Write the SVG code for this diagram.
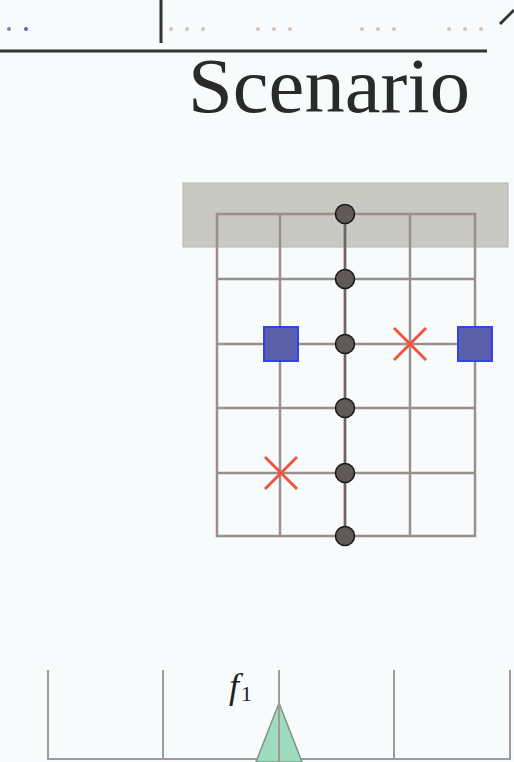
<svg xmlns="http://www.w3.org/2000/svg" width="514" height="762" viewBox="0 0 514 762">
  <style>
    .grid { stroke: #9a8f8b; stroke-width: 2.5; fill: none; }
    .axis { stroke: #a39a96; stroke-width: 2; fill: none; }
    .rule { stroke: #333; stroke-width: 3; fill: none; }
    .dot { fill: #615957; stroke: #1a1a1a; stroke-width: 1.6; }
    .blocked { fill: #5b5ea8; stroke: #2f43f0; stroke-width: 2; }
    .cross { stroke: #ee5541; stroke-width: 3; fill: none; }
    .pt { fill: #d2c2b4; }
  </style>

  <rect width="514" height="762" fill="#f8fbfb"/>

  <!-- header strip -->
  <g id="header">
    <line class="rule" x1="0" y1="51" x2="487" y2="51"/>
    <line class="rule" x1="161" y1="0" x2="161" y2="43"/>
    <line class="rule" x1="500" y1="24" x2="514" y2="10" stroke-width="2.5"/>
    <circle cx="9" cy="29" r="2" fill="#7a86a8"/>
    <circle cx="26" cy="29" r="2" fill="#5a68a0"/>
    <circle class="pt" cx="171" cy="29" r="2"/>
    <circle class="pt" cx="187" cy="29" r="2"/>
    <circle class="pt" cx="203" cy="29" r="2"/>
    <circle class="pt" cx="258" cy="29" r="2"/>
    <circle class="pt" cx="274" cy="29" r="2"/>
    <circle class="pt" cx="290" cy="29" r="2"/>
    <circle class="pt" cx="362" cy="29" r="2"/>
    <circle class="pt" cx="378" cy="29" r="2"/>
    <circle class="pt" cx="394" cy="29" r="2"/>
    <circle class="pt" cx="449" cy="29" r="2"/>
    <circle class="pt" cx="465" cy="29" r="2"/>
    <circle class="pt" cx="481" cy="29" r="2"/>
  </g>

  <g id="title">
    <text x="188" y="112" font-family="Liberation Serif, serif" font-size="78" fill="#2a2a2a" textLength="282" lengthAdjust="spacingAndGlyphs">Scenario</text>
  </g>

  <!-- shaded band -->
  <g id="band">
    <rect x="183" y="183" width="325" height="64" fill="#c9c9c3" stroke="#b5b5af" stroke-width="1"/>
  </g>

  <!-- lattice -->
  <g id="lattice" class="grid">
    <rect x="217" y="214" width="258" height="322"/>
    <line x1="280" y1="214" x2="280" y2="536"/>
    <line x1="345" y1="214" x2="345" y2="536"/>
    <line x1="410" y1="214" x2="410" y2="536"/>
    <line x1="217" y1="279" x2="475" y2="279"/>
    <line x1="217" y1="344" x2="475" y2="344"/>
    <line x1="217" y1="408" x2="475" y2="408"/>
    <line x1="217" y1="473" x2="475" y2="473"/>
  </g>

  <g id="path-line">
    <line x1="345" y1="214" x2="345" y2="536" stroke="#6e6664" stroke-width="2.5"/>
  </g>

  <g id="dots">
    <circle class="dot" cx="345" cy="214" r="9.5"/>
    <circle class="dot" cx="345" cy="279" r="9.5"/>
    <circle class="dot" cx="345" cy="344" r="9.5"/>
    <circle class="dot" cx="345" cy="408" r="9.5"/>
    <circle class="dot" cx="345" cy="473" r="9.5"/>
    <circle class="dot" cx="345" cy="536" r="9.5"/>
  </g>

  <g id="blocks">
    <rect class="blocked" x="264" y="327" width="34" height="34"/>
    <rect class="blocked" x="458" y="327" width="34" height="34"/>
  </g>

  <g id="crosses" class="cross">
    <path d="M394 328 L426 360 M394 360 L426 328"/>
    <path d="M265 457 L297 489 M265 489 L297 457"/>
  </g>

  <!-- frequency axis -->
  <g id="spectrum">
    <polyline class="axis" points="48,670 48,759 510,759 510,670"/>
    <line class="axis" x1="163" y1="670" x2="163" y2="759"/>
    <line class="axis" x1="394" y1="670" x2="394" y2="759"/>
    <polygon points="279,703 302,762 256,762" fill="#9fdcbe" stroke="#7d968a" stroke-width="1.5"/>
    <line class="axis" x1="279" y1="670" x2="279" y2="762" stroke="#857c79"/>
    <text x="229" y="698" font-family="Liberation Serif, serif" font-style="italic" font-size="36" fill="#222">f<tspan font-style="normal" font-size="22" dx="2" dy="3">1</tspan></text>
  </g>
</svg>
